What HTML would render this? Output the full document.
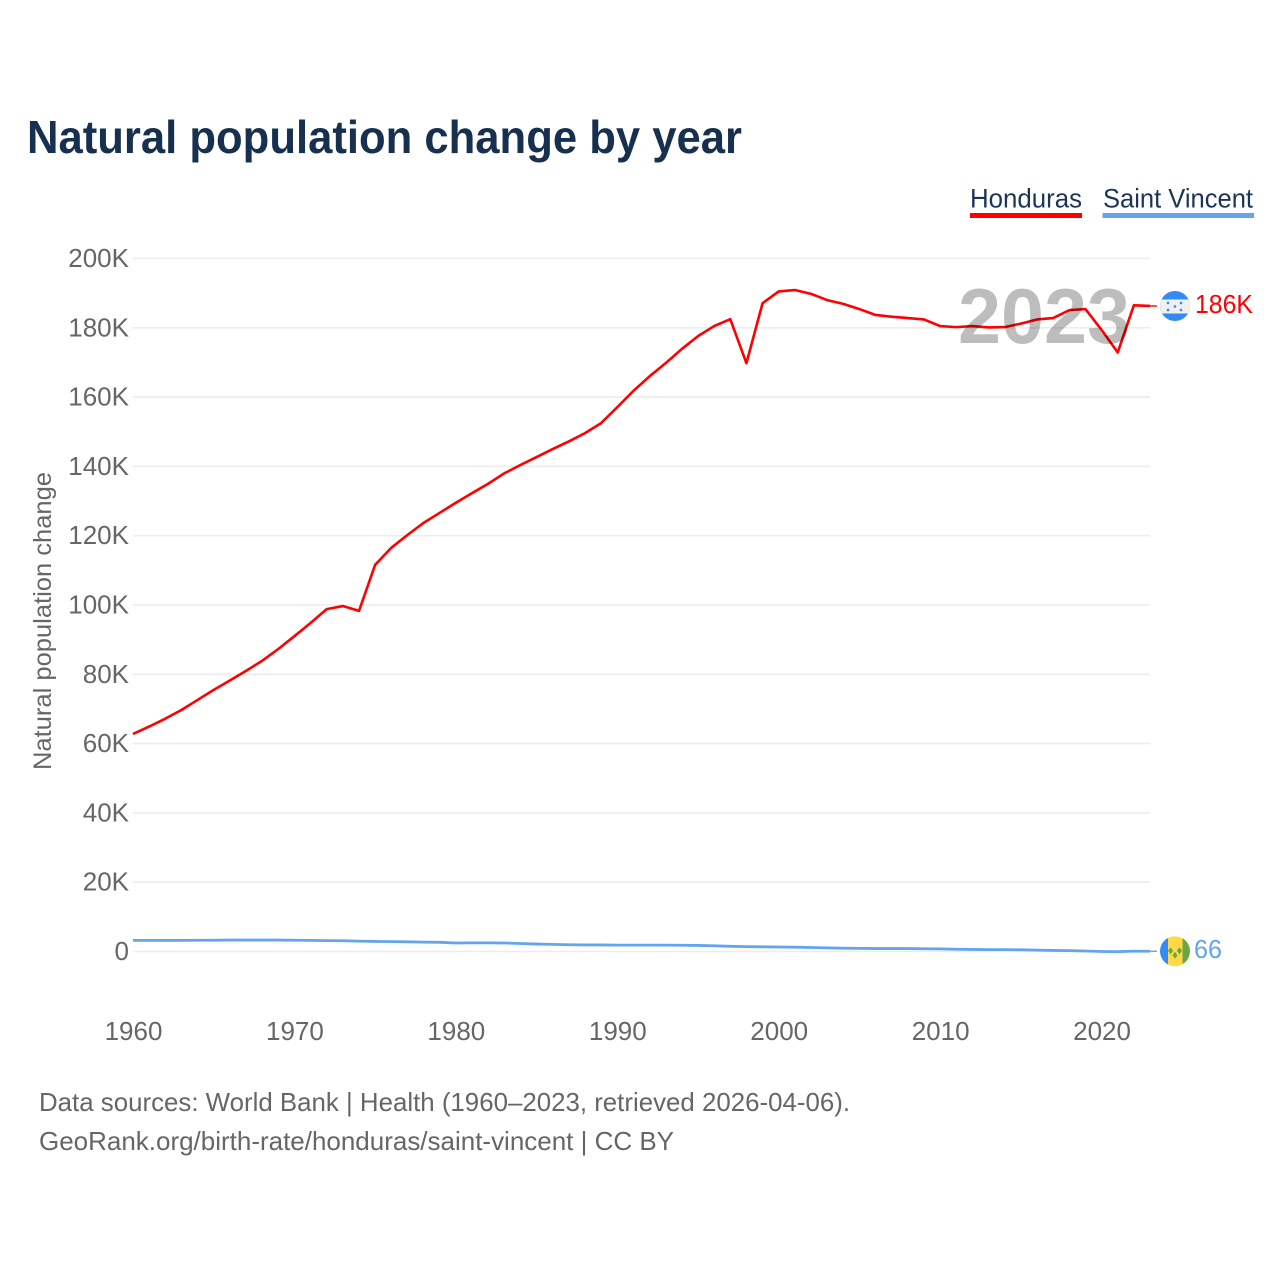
<!DOCTYPE html>
<html lang="en">
<head>
<meta charset="utf-8">
<title>Natural population change by year</title>
<style>
html,body{margin:0;padding:0;background:#fff;}
svg{display:block;font-family:"Liberation Sans",sans-serif;}
</style>
</head>
<body>
<svg id="chart" xmlns="http://www.w3.org/2000/svg" width="1280" height="1280" viewBox="0 0 1280 1280">
  <text x="27" y="153" font-size="46" font-weight="700" fill="#17304f" textLength="715" lengthAdjust="spacingAndGlyphs">Natural population change by year</text>

  <text x="970" y="207.5" font-size="27" fill="#1c3557" textLength="112" lengthAdjust="spacingAndGlyphs">Honduras</text>
  <rect x="970" y="213" width="112" height="5" fill="#ff0000"/>
  <text x="1103" y="207.5" font-size="27" fill="#1c3557" textLength="150" lengthAdjust="spacingAndGlyphs">Saint Vincent</text>
  <rect x="1102.5" y="213" width="151.5" height="5" fill="#62a5ec"/>

  <g id="grid"></g>
  <g id="yticks"></g>
  <g id="xticks"></g>

  <text transform="translate(51,770) rotate(-90)" font-size="25" fill="#666" textLength="298" lengthAdjust="spacingAndGlyphs">Natural population change</text>

  <g id="series"></g>

  <text x="958" y="343" font-size="78" font-weight="700" fill="rgba(0,0,0,0.26)" textLength="172" lengthAdjust="spacingAndGlyphs">2023</text>

  <g id="flag-honduras">
    <clipPath id="clip-hn"><circle cx="0" cy="0" r="15"/></clipPath>
    <g clip-path="url(#clip-hn)">
      <rect x="-15" y="-15" width="30" height="30" fill="#338af3"/>
      <rect x="-15" y="-6.5" width="30" height="14" fill="#f0f0f0"/>
      <circle cx="-7" cy="-3" r="1.3" fill="#338af3"/>
      <circle cx="6" cy="-3" r="1.3" fill="#338af3"/>
      <circle cx="0" cy="0.5" r="1.3" fill="#338af3"/>
      <circle cx="-7" cy="4" r="1.3" fill="#338af3"/>
      <circle cx="6" cy="4" r="1.3" fill="#338af3"/>
    </g>
  </g>
  <g id="flag-saint-vincent">
    <clipPath id="clip-vc"><circle cx="0" cy="0" r="15"/></clipPath>
    <g clip-path="url(#clip-vc)">
      <rect x="-15" y="-15" width="8" height="30" fill="#338af3"/>
      <rect x="-7" y="-15" width="14.5" height="30" fill="#ffda44"/>
      <rect x="7.5" y="-15" width="7.5" height="30" fill="#6da544"/>
      <polygon points="-4.5,-4 -1.8,-0.5 -4.5,3 -7,-0.5" fill="#6da544"/>
      <polygon points="4.5,-4 7,-0.5 4.5,3 1.8,-0.5" fill="#6da544"/>
      <polygon points="0,0.5 2.5,4 0,7.5 -2.5,4" fill="#6da544"/>
    </g>
  </g>
  <text id="label-honduras" x="1195" font-size="26" fill="#ff0000" textLength="58" lengthAdjust="spacingAndGlyphs"></text>
  <text id="label-saint-vincent" x="1194" font-size="26" fill="#62a5ec" textLength="28" lengthAdjust="spacingAndGlyphs"></text>

  <text x="39" y="1111" font-size="26" fill="#666" textLength="811" lengthAdjust="spacingAndGlyphs">Data sources: World Bank | Health (1960–2023, retrieved 2026-04-06).</text>
  <text x="39" y="1150" font-size="26" fill="#666" textLength="635" lengthAdjust="spacingAndGlyphs">GeoRank.org/birth-rate/honduras/saint-vincent | CC BY</text>
</svg>
<script>
const years = [];
for (let yr = 1960; yr <= 2023; yr++) years.push(yr);
const yTickValues = [0, 20, 40, 60, 80, 100, 120, 140, 160, 180, 200];
const xTickValues = [1960, 1970, 1980, 1990, 2000, 2010, 2020];
const hondurasValues = [
  62.8, 64.9, 67.2, 69.7, 72.6, 75.5, 78.2, 81.0, 83.9, 87.3,
  91.0, 94.8, 98.8, 99.7, 98.3, 111.6, 116.5, 120.2, 123.7, 126.6,
  129.5, 132.3, 135.0, 138.0, 140.4, 142.7, 145.0, 147.2, 149.6, 152.5,
  157.1, 161.8, 166.0, 169.8, 173.9, 177.6, 180.5, 182.5, 169.8, 187.1,
  190.5, 190.9, 189.8, 188.0, 186.9, 185.4, 183.7, 183.2, 182.8, 182.4,
  180.5, 180.2, 180.5, 180.1, 180.2, 181.2, 182.4, 182.8, 185.1, 185.4,
  179.4, 172.9, 186.5, 186.3
];
const saintVincentValues = [
  3.2, 3.2, 3.2, 3.2, 3.25, 3.25, 3.3, 3.3, 3.3, 3.3,
  3.25, 3.2, 3.15, 3.1, 3.0, 2.9, 2.85, 2.8, 2.7, 2.65,
  2.45, 2.5, 2.5, 2.45, 2.3, 2.15, 2.05, 1.95, 1.9, 1.9,
  1.85, 1.85, 1.85, 1.85, 1.8, 1.75, 1.65, 1.5, 1.4, 1.35,
  1.3, 1.25, 1.15, 1.05, 0.95, 0.9, 0.85, 0.85, 0.85, 0.8,
  0.75, 0.65, 0.6, 0.55, 0.55, 0.5, 0.4, 0.3, 0.25, 0.15,
  0.0, -0.05, 0.1, 0.066
];
const endLabels = ['186K', '66'];

const NS = 'http://www.w3.org/2000/svg';
function xScale(year) { return 133 + (year - 1960) * (1150 - 133) / 63; }
function yScale(value) { return 951.5 - value * (951.5 - 258.5) / 200; }
function make(parent, tag, attrs) {
  const el = document.createElementNS(NS, tag);
  for (const key in attrs) el.setAttribute(key, attrs[key]);
  parent.appendChild(el);
  return el;
}

const grid = document.getElementById('grid');
const yticks = document.getElementById('yticks');
yTickValues.forEach(function (v) {
  const line = make(grid, 'line', { x1: 133, x2: 1150, y1: yScale(v), y2: yScale(v), stroke: '#ececec', 'stroke-width': 1.6 });
  
  
  const t = make(yticks, 'text', { x: 129, y: yScale(v) + 8.5, 'text-anchor': 'end', 'font-size': 26, fill: '#666' });
  
  
  t.textContent = v === 0 ? '0' : v + 'K';
});

const xticks = document.getElementById('xticks');
xTickValues.forEach(function (yr) {
  const t = make(xticks, 'text', { x: xScale(yr) + 0.5, y: 1040, 'text-anchor': 'middle', 'font-size': 26, fill: '#666' });
  
  
  t.textContent = String(yr);
});

const series = document.getElementById('series');
function drawSeries(values, color, name, width) {
  const pts = values.map(function (v, i) { return xScale(years[i]).toFixed(2) + ',' + yScale(v).toFixed(2); }).join(' ');
  const line = make(series, 'polyline', { points: pts, fill: 'none', stroke: color, 'stroke-width': width, 'stroke-linejoin': 'round' });
  
  
  const lastY = yScale(values[values.length - 1]);
  const tail = make(series, 'line', { x1: xScale(2023), x2: 1157, y1: lastY, y2: lastY, stroke: color, 'stroke-width': 1.4 });
  
  
  return lastY;
}
const hnY = drawSeries(hondurasValues, '#ff0000', 'honduras-line', 2.6);
const vcY = drawSeries(saintVincentValues, '#62a5ec', 'saint-vincent-line', 2.8);

document.getElementById('flag-honduras').setAttribute('transform', 'translate(1175,' + hnY + ')');
document.getElementById('flag-saint-vincent').setAttribute('transform', 'translate(1175,' + vcY + ')');
const lh = document.getElementById('label-honduras');
lh.setAttribute('y', hnY + 7);
lh.textContent = endLabels[0];
const lv = document.getElementById('label-saint-vincent');
lv.setAttribute('y', vcY + 6.5);
lv.textContent = endLabels[1];
</script>
</body>
</html>
